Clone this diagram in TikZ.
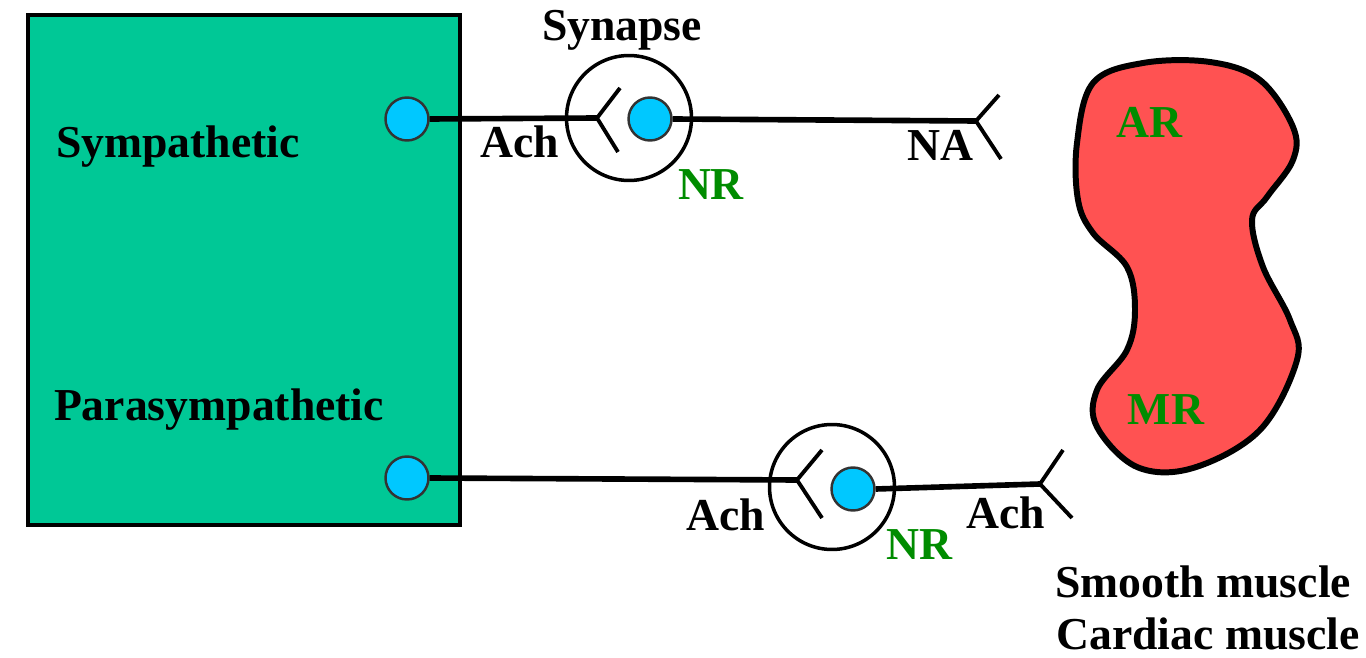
\documentclass[tikz,border=0pt]{standalone}
\usepackage{fontspec}
\setmainfont{Liberation Serif}
\usetikzlibrary{positioning}
\definecolor{boxgreen}{RGB}{0,200,150}
\definecolor{dotblue}{RGB}{0,200,255}
\definecolor{musclered}{RGB}{255,82,82}
\definecolor{recgreen}{RGB}{0,140,0}

\begin{document}
\begin{tikzpicture}[x=0.02cm, y=-0.02cm,
  lbl/.style={font=\fontsize{26}{30}\selectfont\bfseries, inner sep=0pt},
  rec/.style={lbl, text=recgreen},
  dot/.style={circle, draw=black!80, line width=1.4pt, fill=dotblue,
              minimum size=0.86cm, inner sep=0pt},
  syn/.style={circle, draw, line width=2pt, minimum size=2.5cm, inner sep=0pt},
  nerve/.style={line width=3.2pt},
  fork/.style={line width=2.2pt}
]
  \useasboundingbox (0,0) rectangle (1366,658);
  % autonomic centre
  \node[draw, line width=2.2pt, fill=boxgreen, minimum width=8.64cm,
        minimum height=10.2cm, inner sep=0pt] (cns) at (244,270) {};
  \node[lbl] (symp) at (178,147) {Sympathetic};
  \node[lbl] (para) at (219,410) {Parasympathetic};
  \node[dot] (sdot) at (407,119) {};
  \node[dot] (pdot) at (407,478) {};

  % sympathetic synapse
  \node[syn] (ssyn) at (629,118) {};
  \node[lbl] (synlbl) at (622,30) {Synapse};
  \coordinate (sfork) at (597,118);
  \node[dot] (sdot2) at (650,119) {};
  \coordinate (nafork) at (976,121);
  \draw[nerve] (sdot.east) -- (sfork);
  \draw[fork] (sfork) -- ++(23,-30) (sfork) -- ++(21,34);
  \draw[nerve] (sdot2.east) -- (nafork);
  \draw[fork] (nafork) -- ++(23,-26) (nafork) -- ++(25,38);
  \node[lbl] (ach1) at (520,142) {Ach};
  \node[rec] (nr1) at (711,185) {NR};
  \node[lbl] (na) at (940,145) {NA};

  % parasympathetic synapse
  \node[syn] (psyn) at (832,487) {};
  \coordinate (pfork) at (797,480);
  \node[dot] (pdot2) at (853,489) {};
  \coordinate (achfork) at (1040,484);
  \draw[nerve] (pdot.east) -- (pfork);
  \draw[fork] (pfork) -- ++(25,-30) (pfork) -- ++(25,38);
  \draw[nerve] (pdot2.east) -- (achfork);
  \draw[fork] (achfork) -- ++(23,-34) (achfork) -- ++(32,34);
  \node[lbl] (ach2) at (726,515) {Ach};
  \node[rec] (nr2) at (919,545) {NR};
  \node[lbl] (ach3) at (1006,513) {Ach};

  % effector
  \draw[line width=3.4pt, fill=musclered] plot[smooth cycle, tension=0.6] coordinates {
    (1143,63) (1093,83) (1077,143) (1078,200) (1093,233) (1127,267) (1135,310)
    (1127,350) (1097,390) (1097,427) (1137,467) (1193,468) (1260,430)
    (1297,360) (1290,320) (1263,267) (1252,220) (1267,197) (1293,160)
    (1293,127) (1260,80) (1210,62)};
  \node[rec] (ar) at (1149,122) {AR};
  \node[rec] (mr) at (1166,410) {MR};
  \node[lbl, anchor=west] (smooth) at (1055,582) {Smooth muscle};
  \node[lbl, anchor=west] (cardiac) at (1056,634) {Cardiac muscle};
\end{tikzpicture}
\end{document}
